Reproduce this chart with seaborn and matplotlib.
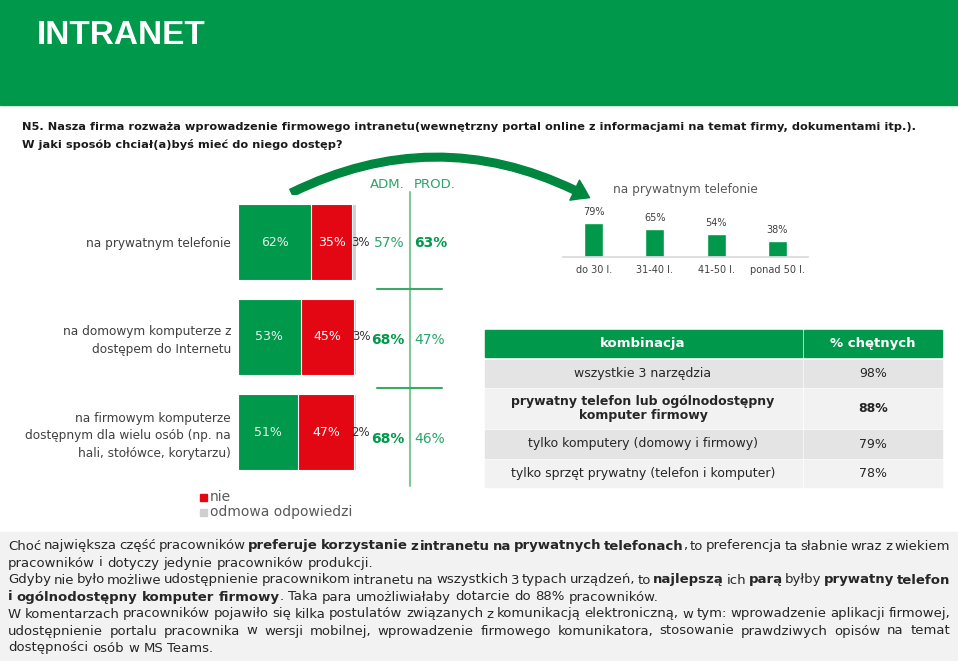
import matplotlib.pyplot as plt
import matplotlib.patches as mpatches
import seaborn as sns
import pandas as pd

W, H = 958, 661
GREEN = "#00984A"
RED = "#E30613"
GREY = "#CFCFCF"
TXT = "#404040"

# dane z wykresu
categories = ["na prywatnym telefonie",
              "na domowym komputerze z\ndostępem do Internetu",
              "na firmowym komputerze\ndostępnym dla wielu osób (np. na\nhali, stołówce, korytarzu)"]
tak = [62, 53, 51]
nie = [35, 45, 47]
odmowa = [3, 3, 2]
adm = [57, 68, 68]
prod = [63, 47, 46]

age_groups = ["do 30 l.", "31-40 l.", "41-50 l.", "ponad 50 l."]
phone_by_age = [79, 65, 54, 38]

combo_header = ["kombinacja", "% chętnych"]
combo_names = ["wszystkie 3 narzędzia",
               "prywatny telefon lub ogólnodostępny\nkomputer firmowy",
               "tylko komputery (domowy i firmowy)",
               "tylko sprzęt prywatny (telefon i komputer)"]
combo_values = [98, 88, 79, 78]
combo_bold = [False, True, False, False]

sns.set_theme(style="white")
plt.rcParams["font.family"] = ["DejaVu Sans"]

fig = plt.figure(figsize=(W / 100, H / 100), dpi=100)


def px_axes(x0, y0, x1, y1):
    return fig.add_axes([x0 / W, 1 - y1 / H, (x1 - x0) / W, (y1 - y0) / H])


bg = px_axes(0, 0, W, H)
bg.set_xlim(0, W)
bg.set_ylim(H, 0)
bg.axis("off")

# naglowek
bg.add_patch(mpatches.Rectangle((0, 0), W, 105, color=GREEN))
bg.text(37, 35, "INTRANET", color="white", fontsize=24, fontweight="bold", va="center",
        family=["Liberation Sans", "DejaVu Sans"])
bg.text(22, 127, "N5. Nasza firma rozważa wprowadzenie firmowego intranetu(wewnętrzny portal online z informacjami na temat firmy, dokumentami itp.).",
        fontsize=8.2, fontweight="bold", color="#1a1a1a", va="center")
bg.text(22, 145, "W jaki sposób chciał(a)byś mieć do niego dostęp?",
        fontsize=8.2, fontweight="bold", color="#1a1a1a", va="center")

# strzalka
arrow = mpatches.FancyArrowPatch((289, 194), (592, 199), connectionstyle="arc3,rad=-0.26",
                                 arrowstyle="simple,head_length=12,head_width=16,tail_width=5.5",
                                 color="#00873F", mutation_scale=1)
bg.add_patch(arrow)

# wykres skumulowany
df = pd.DataFrame({"kat": categories, "tak": tak, "nie": nie, "odmowa": odmowa})
df["tak_nie"] = df["tak"] + df["nie"]
df["razem"] = df["tak_nie"] + df["odmowa"]

ax = px_axes(238, 194.5, 356, 479.5)
for col, c in [("razem", GREY), ("tak_nie", RED), ("tak", GREEN)]:
    sns.barplot(data=df, x=col, y="kat", color=c, saturation=1, width=0.79,
                edgecolor="white", linewidth=0.8, ax=ax)
ax.set_xlim(0, 100)
ax.set_ylim(2.5, -0.5)
ax.set_xticks([])
ax.set_xlabel("")
ax.set_ylabel("")
ax.set_yticks(range(len(categories)))
ax.set_yticklabels(categories, fontsize=8.7, color=TXT)
for lbl in ax.get_yticklabels():
    lbl.set_linespacing(1.45)
ax.tick_params(axis="y", length=0, pad=5)
sns.despine(ax=ax, left=True, bottom=True)
for i in range(len(categories)):
    ax.text(tak[i] / 2, i, f"{tak[i]}%", ha="center", va="center", fontsize=9,
            color="#E8F5EC", zorder=10)
    ax.text(tak[i] + nie[i] / 2, i, f"{nie[i]}%", ha="center", va="center", fontsize=9,
            color="white", zorder=10)
    ax.text(df["razem"][i] - 4, i, f"{odmowa[i]}%", ha="left", va="center",
            fontsize=8.5, color="#333333", clip_on=False, zorder=10)

# legenda
bg.add_patch(mpatches.Rectangle((200, 494), 7, 7, color=RED))
bg.text(210, 497, "nie", fontsize=10, color="#595959", va="center")
bg.add_patch(mpatches.Rectangle((200, 509), 7, 7, color=GREY))
bg.text(210, 512, "odmowa odpowiedzi", fontsize=10, color="#595959", va="center")

# ADM / PROD
bg.text(387, 185, "ADM.", ha="center", va="center", fontsize=9.5, color="#2BA56B")
bg.text(435, 185, "PROD.", ha="center", va="center", fontsize=9.5, color="#2BA56B")
bg.plot([410, 410], [192, 486], color="#7DC99A", lw=1.5)
for yy in [289, 388]:
    bg.plot([377, 442], [yy, yy], color="#3AAA66", lw=1.5)
row_y = [243, 340, 439]
for i in range(len(categories)):
    a_bold = adm[i] > prod[i]
    bg.text(405, row_y[i], f"{adm[i]}%", ha="right", va="center", fontsize=10,
            fontweight="bold" if a_bold else "normal", color=GREEN if a_bold else "#2BA56B")
    bg.text(414, row_y[i], f"{prod[i]}%", ha="left", va="center", fontsize=10,
            fontweight="normal" if a_bold else "bold", color="#2BA56B" if a_bold else GREEN)

# wykres wg wieku
bg.text(685, 190, "na prywatnym telefonie", ha="center", va="center", fontsize=8.7, color="#595959")
ax2 = px_axes(563, 214, 808, 257)
sns.barplot(x=age_groups, y=phone_by_age, color=GREEN, saturation=1, width=0.31, ax=ax2)
ax2.set_ylim(0, 100)
ax2.set_xlim(-0.5, 3.5)
ax2.set_yticks([])
ax2.bar_label(ax2.containers[0], labels=[f"{v}%" for v in phone_by_age], padding=4,
              fontsize=7, color=TXT)
ax2.tick_params(axis="x", length=0, pad=6, labelsize=7, labelcolor=TXT)
sns.despine(ax=ax2, left=True)
ax2.spines["bottom"].set_color("#D9D9D9")
ax2.patch.set_alpha(0)

# tabela
bg.add_patch(mpatches.Rectangle((485, 330), 802 - 485, 27, color=GREEN))
bg.add_patch(mpatches.Rectangle((804, 330), 942 - 804, 27, color=GREEN))
bg.text(643, 344, combo_header[0], ha="center", va="center", fontsize=9.5, fontweight="bold", color="white")
bg.text(873, 344, combo_header[1], ha="center", va="center", fontsize=9.5, fontweight="bold", color="white")
rows = [(360, 387), (389, 428), (430, 458), (460, 487)]
for i, (y0, y1) in enumerate(rows):
    fc = "#E4E4E4" if i % 2 == 0 else "#F2F2F2"
    bg.add_patch(mpatches.Rectangle((485, y0), 802 - 485, y1 - y0, color=fc))
    bg.add_patch(mpatches.Rectangle((804, y0), 942 - 804, y1 - y0, color=fc))
    fw = "bold" if combo_bold[i] else "normal"
    bg.text(643, (y0 + y1) / 2, combo_names[i], ha="center", va="center", fontsize=9,
            fontweight=fw, color="#262626", linespacing=1.15)
    bg.text(873, (y0 + y1) / 2, f"{combo_values[i]}%", ha="center", va="center", fontsize=9,
            fontweight=fw, color="#262626")

# dolny komentarz
bg.add_patch(mpatches.Rectangle((0, 532), W, H - 532, color="#F2F2F2"))
body = [
    ([("Choć największa część pracowników ", False),
      ("preferuje korzystanie z intranetu na prywatnych telefonach", True),
      (", to preferencja ta słabnie wraz z wiekiem", False)], True),
    ([("pracowników i dotyczy jedynie pracowników produkcji.", False)], False),
    ([("Gdyby nie było możliwe udostępnienie pracownikom intranetu na wszystkich 3 typach urządzeń, to ", False),
      ("najlepszą", True), (" ich ", False), ("parą", True), (" byłby ", False),
      ("prywatny telefon", True)], True),
    ([("i ogólnodostępny komputer firmowy", True),
      (". Taka para umożliwiałaby dotarcie do 88% pracowników.", False)], False),
    ([("W komentarzach pracowników pojawiło się kilka postulatów związanych z komunikacją elektroniczną, w tym: wprowadzenie aplikacji firmowej,", False)], True),
    ([("udostępnienie portalu pracownika w wersji mobilnej, wprowadzenie firmowego komunikatora, stosowanie prawdziwych opisów na temat", False)], True),
    ([("dostępności osób w MS Teams.", False)], False),
]
BODY_SIZE = 9.5
renderer = fig.canvas.get_renderer()


def text_width(s, bold):
    t = bg.text(0, 0, s, fontsize=BODY_SIZE, fontweight="bold" if bold else "normal")
    w = t.get_window_extent(renderer).width
    t.remove()
    return w


space_w = text_width("a a", False) - text_width("aa", False)
x_left, x_right = 8, 950
for n, (segments, justify) in enumerate(body):
    y = 546 + 17 * n
    words = []
    new_word = True
    for txt, bold in segments:
        for k, p in enumerate(txt.split(" ")):
            if k > 0:
                new_word = True
            if p == "":
                continue
            if new_word or not words:
                words.append([(p, bold)])
            else:
                words[-1].append((p, bold))
            new_word = False
    widths = [[text_width(p, b) for p, b in w] for w in words]
    total = sum(sum(w) for w in widths)
    gap = (x_right - x_left - total) / (len(words) - 1) if justify else space_w
    x = x_left
    for w, ws in zip(words, widths):
        for (p, b), pw in zip(w, ws):
            bg.text(x, y, p, fontsize=BODY_SIZE, fontweight="bold" if b else "normal",
                    color="#262626", va="center")
            x += pw
        x += gap

fig.savefig("out.png", dpi=100)
